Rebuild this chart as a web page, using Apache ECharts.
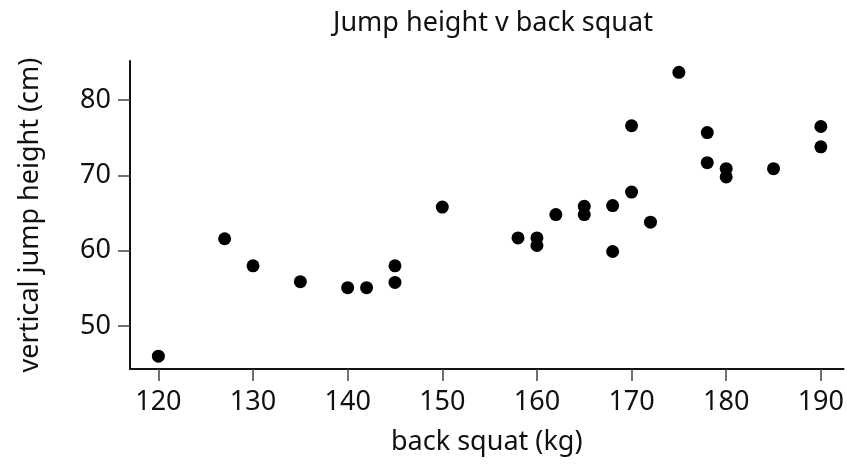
<!DOCTYPE html>
<html>
<head>
<meta charset="utf-8">
<script src="https://cdn.jsdelivr.net/npm/echarts@6/dist/echarts.min.js"></script>
<style>
  html, body { margin: 0; padding: 0; background: #fff; }
  #chart { width: 847px; height: 465px; }
</style>
</head>
<body>
<div id="chart"></div>
<script>
// back squat (kg) and vertical jump height (cm)
var squat = [120, 127, 130, 135, 140, 142, 145, 145, 150, 158, 160, 160, 162, 165, 165,
             168, 168, 170, 170, 172, 175, 178, 178, 180, 180, 185, 190, 190];
var jump = [46, 61.6, 58, 55.9, 55.1, 55.1, 58, 55.8, 65.8, 61.7, 61.7, 60.7, 64.8, 65.9, 64.8,
            66, 59.9, 76.6, 67.8, 63.8, 83.7, 75.7, 71.7, 70.9, 69.8, 70.9, 76.5, 73.8];
var xTicks = [120, 130, 140, 150, 160, 170, 180, 190];
var yTicks = [50, 60, 70, 80];

var points = [];
for (var i = 0; i < squat.length; i++) {
  points.push([squat[i], jump[i]]);
}

var font = "Noto Sans";
var chart = echarts.init(document.getElementById("chart"));

var option = {
  backgroundColor: "#fff",
  animation: false,
  title: {
    text: "Jump height v back squat",
    left: 488,
    top: 5,
    textAlign: "center",
    textStyle: {
      color: "#111",
      fontFamily: font,
      fontSize: 27,
      fontWeight: "normal",
    },
  },
  grid: {
    left: 130,
    right: 1,
    top: 61,
    bottom: 96,
  },
  xAxis: {
    type: "value",
    min: 117,
    max: 192.4,
    name: "back squat (kg)",
    nameLocation: "middle",
    nameGap: 60,
    nameTextStyle: { color: "#111", fontFamily: font, fontSize: 27 },
    splitLine: { show: false },
    axisLine: { lineStyle: { color: "#111", width: 2 } },
    axisTick: {
      customValues: xTicks,
      length: 12,
      lineStyle: { color: "#444", width: 1.5 },
    },
    axisLabel: {
      customValues: xTicks,
      margin: 20,
      color: "#111",
      fontFamily: font,
      fontSize: 27,
    },
  },
  yAxis: {
    type: "value",
    min: 44.3,
    max: 85.2,
    name: "vertical jump height (cm)",
    nameLocation: "middle",
    nameGap: 86,
    nameTextStyle: { color: "#111", fontFamily: font, fontSize: 27 },
    splitLine: { show: false },
    axisLine: { show: true, lineStyle: { color: "#111", width: 2 } },
    axisTick: {
      show: true,
      customValues: yTicks,
      length: 12,
      lineStyle: { color: "#444", width: 1.5 },
    },
    axisLabel: {
      customValues: yTicks,
      margin: 19,
      color: "#111",
      fontFamily: font,
      fontSize: 27,
    },
  },
  series: [
    {
      type: "scatter",
      symbol: "circle",
      symbolSize: 13,
      itemStyle: { color: "#000", opacity: 1 },
      data: points,
    },
  ],
};

chart.setOption(option);
</script>
</body>
</html>
